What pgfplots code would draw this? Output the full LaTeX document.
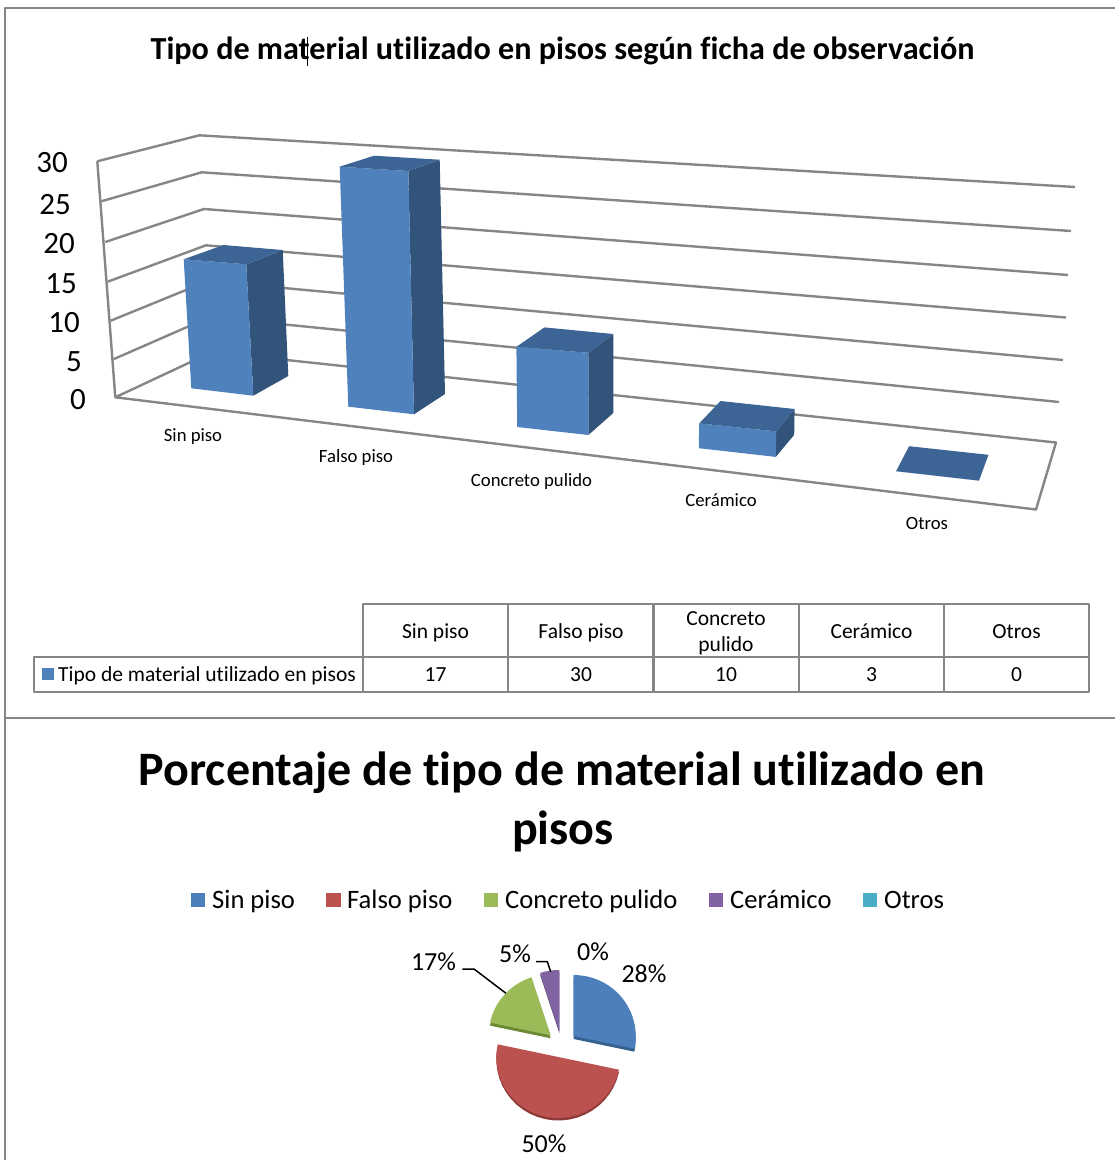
\documentclass[border=0pt]{standalone}
\usepackage{fontspec}
\setmainfont[Ligatures=NoCommon]{Carlito}
\usepackage{pgfplots}
\usepackage{pgfplotstable}
\pgfplotsset{compat=1.18}

\definecolor{frame}{HTML}{868686}
\definecolor{barfront}{HTML}{4F81BD}
\definecolor{barside}{HTML}{32537A}
\definecolor{bartop}{HTML}{3C6494}
\definecolor{pieblue}{HTML}{4D7FBC}
\definecolor{pieblueside}{HTML}{36608F}
\definecolor{piered}{HTML}{BC524F}
\definecolor{pieredside}{HTML}{8E3A38}
\definecolor{piegreen}{HTML}{9BBB59}
\definecolor{piegreenside}{HTML}{6C8A35}
\definecolor{piepurple}{HTML}{8064A2}
\definecolor{piepurpleside}{HTML}{5E4A78}
\definecolor{pieteal}{HTML}{4BACC6}

% Floor corners of each column, with how far each corner moves per unit of height.
\pgfplotstableread{
value flx   fly   fldx  flk  frx   fry   frdx  frk  brx   bry   brdx  brk  blx   bly   bldx  blk
17    191.3 388.3 -.447 7.59 253.3 395.7 -.412 7.73 288.3 376.0 -.329 7.41 229.0 371.0 -.330 7.41
30    348.3 406.7 -.287 8.00 414.0 414.3 -.190 8.11 445.0 394.0 -.177 7.81 379.3 390.0 -.177 7.81
10    517.2 427.0 -.080 8.02 588.4 435.0  0.00 8.22 613.3 413.0  0.00 7.90 544.4 406.4  0.00 7.90
3     698.8 448.2  .130 8.27 775.8 456.9  .130 8.50 794.2 434.8  .130 8.60 720.2 426.2  .130 8.40
0     896.1 471.2  0.00 8.30 978.9 480.6  0.00 8.30 988.4 454.8  0.00 8.30 909.1 446.2  0.00 8.30
}\columnsgeom

% Pie slices: category count and the position of the slice's apex.
\pgfplotstableread{
value cx    cy     drop
17    573.7 1036.0 3
30    558.3 1057.0 2.5
10    550.7 1035.3 3
3     559.3 1031.0 2
0     573.0 1036.0 0
}\pieslices

% Sweep parameter along a slice: apex first, then the rim.
\pgfplotstableread{
t      r
0      0
0      1
0.0417 1
0.0833 1
0.125  1
0.1667 1
0.2083 1
0.25   1
0.2917 1
0.3333 1
0.375  1
0.4167 1
0.4583 1
0.5    1
0.5417 1
0.5833 1
0.625  1
0.6667 1
0.7083 1
0.75   1
0.7917 1
0.8333 1
0.875  1
0.9167 1
0.9583 1
1      1
}\sweeppath

\newcommand\fs[1]{\fontsize{#1}{#1}\selectfont}

% Reads one corner of a column: floor position and top position.
\newcommand\readcorner[2]{%
  \pgfplotstablegetelem{#1}{#2x}\of\columnsgeom\let\cornerx\pgfplotsretval
  \pgfplotstablegetelem{#1}{#2y}\of\columnsgeom\let\cornery\pgfplotsretval
  \pgfplotstablegetelem{#1}{#2dx}\of\columnsgeom\let\cornerdx\pgfplotsretval
  \pgfplotstablegetelem{#1}{#2k}\of\columnsgeom\let\cornerk\pgfplotsretval
  \pgfplotstablegetelem{#1}{value}\of\columnsgeom\let\cornerv\pgfplotsretval
  \expandafter\edef\csname #2bx\endcsname{\cornerx}%
  \expandafter\edef\csname #2by\endcsname{\cornery}%
  \pgfmathparse{\cornerx+\cornerv*\cornerdx}%
  \expandafter\edef\csname #2tx\endcsname{\pgfmathresult}%
  \pgfmathparse{\cornery-\cornerv*\cornerk}%
  \expandafter\edef\csname #2ty\endcsname{\pgfmathresult}%
}

% One column: front, side and top faces.
\newcommand\drawcolumn[1]{%
  \readcorner{#1}{fl}\readcorner{#1}{fr}\readcorner{#1}{br}\readcorner{#1}{bl}%
  \addplot[fill=barside,draw=none] coordinates
    {(\frbx,\frby) (\brbx,\brby) (\brtx,\brty) (\frtx,\frty)} -- cycle;
  \addplot[fill=barfront,draw=none] coordinates
    {(\flbx,\flby) (\frbx,\frby) (\frtx,\frty) (\fltx,\flty)} -- cycle;
  \addplot[fill=bartop,draw=none] coordinates
    {(\fltx,\flty) (\frtx,\frty) (\brtx,\brty) (\bltx,\blty)} -- cycle;
}

% One pie slice; the running angle starts at twelve o'clock and goes clockwise.
\gdef\pieangle{0}
\newcommand\drawslice[3]{%
  \pgfplotstablegetelem{#1}{value}\of\pieslices\let\slv\pgfplotsretval
  \pgfplotstablegetelem{#1}{cx}\of\pieslices\let\slx\pgfplotsretval
  \pgfplotstablegetelem{#1}{cy}\of\pieslices\let\sly\pgfplotsretval
  \pgfplotstablegetelem{#1}{drop}\of\pieslices\let\sld\pgfplotsretval
  \pgfmathsetmacro\slsweep{360*\slv/60}%
  \addplot[fill=#3,draw=none] table[
    x expr={\slx+\thisrow{r}*62*sin(\pieangle+\thisrow{t}*\slsweep)},
    y expr={\sly+\sld-\thisrow{r}*61*cos(\pieangle+\thisrow{t}*\slsweep)}]
    {\sweeppath} -- cycle;
  \addplot[fill=#2,draw=none] table[
    x expr={\slx+\thisrow{r}*62*sin(\pieangle+\thisrow{t}*\slsweep)},
    y expr={\sly-\thisrow{r}*61*cos(\pieangle+\thisrow{t}*\slsweep)}]
    {\sweeppath} -- cycle;
  \pgfmathparse{\pieangle+\slsweep}\xdef\pieangle{\pgfmathresult}%
}

\begin{document}
\begin{tikzpicture}
\begin{axis}[
  width=1115pt, height=1160pt, scale only axis,
  xmin=0, xmax=1115, ymin=0, ymax=1160, y dir=reverse,
  hide axis, clip=true,
  every axis plot/.append style={line join=round},
]
% Keeps the whole drawing area on the page
\addplot[draw=none] coordinates {(0,0) (1115,0) (1115,1160) (0,1160)} -- cycle;

% Outer frames of the two charts
\addplot[frame,line width=2.4pt] coordinates {(1115,8) (5,8) (5,1160)};
\addplot[frame,line width=2.4pt] coordinates {(5,718) (1115,718)};

% Wall gridlines, one for each tick, and the vertical axis edge
\addplot[frame,line width=2.4pt] coordinates {(97.3,161.3) (199.3,135.3) (1075,187)};
\addplot[frame,line width=2.4pt] coordinates {(101.3,201.3) (201.7,172.3) (1071,231)};
\addplot[frame,line width=2.4pt] coordinates {(105.3,242) (204,209) (1068,275)};
\addplot[frame,line width=2.4pt] coordinates {(107.7,281.7) (206,245.3) (1066,317.5)};
\addplot[frame,line width=2.4pt] coordinates {(110.7,320.7) (208,281) (1063,360)};
\addplot[frame,line width=2.4pt] coordinates {(113.3,359.3) (210,317) (1059,402)};
\addplot[frame,line width=2.4pt] coordinates {(115.3,397.3) (212,352) (1056,442.5) (1036,509.5) (115.3,397.3) (97.3,161.3)};

% Columns
\pgfplotsinvokeforeach{0,1,2,3,4}{\drawcolumn{#1}}

% Pie slices
\drawslice{0}{pieblue}{pieblueside}
\drawslice{1}{piered}{pieredside}
\drawslice{2}{piegreen}{piegreenside}
\drawslice{3}{piepurple}{piepurpleside}
\drawslice{4}{pieteal}{pieteal}

% Leader lines of the pie labels
\addplot[black,line width=1.5pt] coordinates {(462.3,969) (474,969) (506,993.3)};
\addplot[black,line width=1.5pt] coordinates {(536,961.7) (547.3,961.7) (550.7,971.7)};

% Text cursor in the first title
\addplot[black,line width=1.5pt] coordinates {(307.5,37) (307.5,66)};

% Data table rules
\addplot[frame,line width=2.4pt] coordinates {(363,657) (363,604) (1089,604) (1089,692) (34,692) (34,657) (1089,657)};
\addplot[frame,line width=2.4pt] coordinates {(363,657) (363,692)};
\addplot[frame,line width=2.4pt] coordinates {(508,604) (508,692)};
\addplot[frame,line width=2.4pt] coordinates {(653.5,604) (653.5,692)};
\addplot[frame,line width=2.4pt] coordinates {(799,604) (799,692)};
\addplot[frame,line width=2.4pt] coordinates {(944,604) (944,692)};

% Legend keys
\addplot[fill=barfront,draw=none] coordinates {(42,668) (54,668) (54,680) (42,680)} -- cycle;
\addplot[fill=pieblue,draw=none] coordinates {(191,893) (205,893) (205,907) (191,907)} -- cycle;
\addplot[fill=piered,draw=none] coordinates {(326,893) (341,893) (341,907) (326,907)} -- cycle;
\addplot[fill=piegreen,draw=none] coordinates {(484,893) (498,893) (498,907) (484,907)} -- cycle;
\addplot[fill=piepurple,draw=none] coordinates {(709,893) (723,893) (723,907) (709,907)} -- cycle;
\addplot[fill=pieteal,draw=none] coordinates {(863,893) (877,893) (877,907) (863,907)} -- cycle;

% Titles
\node[anchor=base,inner sep=0pt,font=\fs{32.15}\bfseries] at (axis cs:562.5,59) {Tipo de material utilizado en pisos según ficha de observación};
\node[anchor=base,inner sep=0pt,font=\fs{48}\bfseries] at (axis cs:562,785) {Porcentaje de tipo de material utilizado en};
\node[anchor=base,inner sep=0pt,font=\fs{48}\bfseries] at (axis cs:563,844) {pisos};

% Value scale
\node[anchor=base east,inner sep=0pt,font=\fs{31}] at (axis cs:68,172) {30};
\node[anchor=base east,inner sep=0pt,font=\fs{31}] at (axis cs:71,214) {25};
\node[anchor=base east,inner sep=0pt,font=\fs{31}] at (axis cs:75,253) {20};
\node[anchor=base east,inner sep=0pt,font=\fs{31}] at (axis cs:77,293) {15};
\node[anchor=base east,inner sep=0pt,font=\fs{31}] at (axis cs:80,332) {10};
\node[anchor=base east,inner sep=0pt,font=\fs{31}] at (axis cs:82,371) {5};
\node[anchor=base east,inner sep=0pt,font=\fs{31}] at (axis cs:86,409) {0};

% Category names along the floor
\node[anchor=base,inner sep=0pt,font=\fs{18.7}] at (axis cs:193,441) {Sin piso};
\node[anchor=base,inner sep=0pt,font=\fs{18.7}] at (axis cs:356,462) {Falso piso};
\node[anchor=base,inner sep=0pt,font=\fs{18.7}] at (axis cs:531.5,486) {Concreto pulido};
\node[anchor=base,inner sep=0pt,font=\fs{18.7}] at (axis cs:721,506) {Cerámico};
\node[anchor=base,inner sep=0pt,font=\fs{18.7}] at (axis cs:927,529) {Otros};

% Data table contents
\node[anchor=base,inner sep=0pt,font=\fs{21.5}] at (axis cs:435.5,638) {Sin piso};
\node[anchor=base,inner sep=0pt,font=\fs{21.5}] at (axis cs:581,638) {Falso piso};
\node[anchor=base,inner sep=0pt,font=\fs{21.5}] at (axis cs:726,625) {Concreto};
\node[anchor=base,inner sep=0pt,font=\fs{21.5}] at (axis cs:726,651) {pulido};
\node[anchor=base,inner sep=0pt,font=\fs{21.5}] at (axis cs:871.5,638) {Cerámico};
\node[anchor=base,inner sep=0pt,font=\fs{21.5}] at (axis cs:1016.5,638) {Otros};
\node[anchor=base west,inner sep=0pt,font=\fs{21.5}] at (axis cs:58,681) {Tipo de material utilizado en pisos};
\node[anchor=base,inner sep=0pt,font=\fs{21.5}] at (axis cs:435.5,681) {17};
\node[anchor=base,inner sep=0pt,font=\fs{21.5}] at (axis cs:581,681) {30};
\node[anchor=base,inner sep=0pt,font=\fs{21.5}] at (axis cs:726,681) {10};
\node[anchor=base,inner sep=0pt,font=\fs{21.5}] at (axis cs:871.5,681) {3};
\node[anchor=base,inner sep=0pt,font=\fs{21.5}] at (axis cs:1016.5,681) {0};

% Pie legend
\node[anchor=base west,inner sep=0pt,font=\fs{26.6}] at (axis cs:212,908) {Sin piso};
\node[anchor=base west,inner sep=0pt,font=\fs{26.6}] at (axis cs:347,908) {Falso piso};
\node[anchor=base west,inner sep=0pt,font=\fs{26.6}] at (axis cs:505,908) {Concreto pulido};
\node[anchor=base west,inner sep=0pt,font=\fs{26.6}] at (axis cs:730,908) {Cerámico};
\node[anchor=base west,inner sep=0pt,font=\fs{26.6}] at (axis cs:884,908) {Otros};

% Pie percentages
\node[anchor=base,inner sep=0pt,font=\fs{26}] at (axis cs:433.5,970) {17\%};
\node[anchor=base,inner sep=0pt,font=\fs{26}] at (axis cs:515,962) {5\%};
\node[anchor=base,inner sep=0pt,font=\fs{26}] at (axis cs:593,960) {0\%};
\node[anchor=base,inner sep=0pt,font=\fs{26}] at (axis cs:644,982) {28\%};
\node[anchor=base,inner sep=0pt,font=\fs{26}] at (axis cs:544,1152) {50\%};
\end{axis}
\end{tikzpicture}
\end{document}
